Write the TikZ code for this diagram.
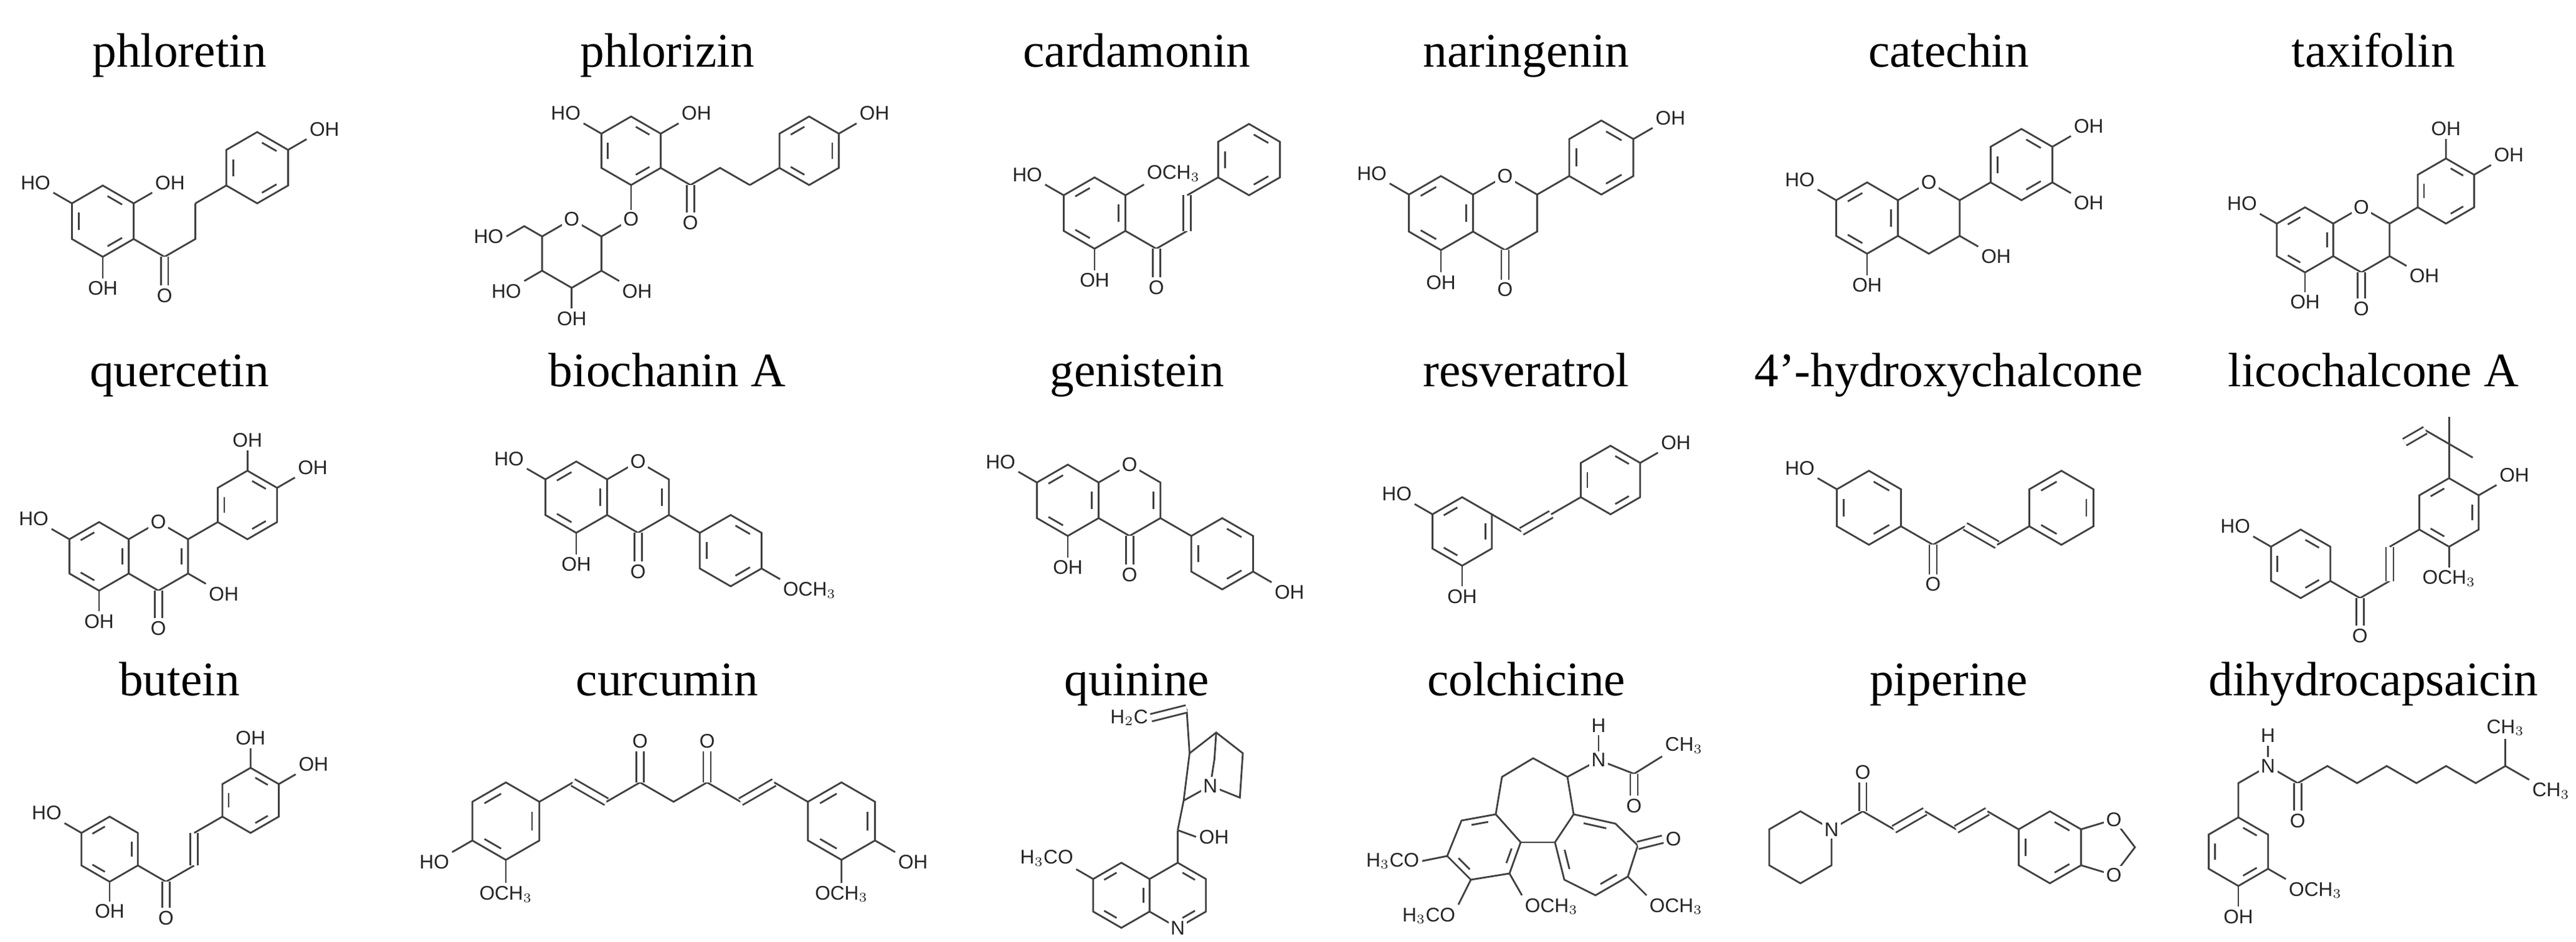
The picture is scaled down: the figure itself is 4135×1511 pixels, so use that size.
\documentclass[tikz,border=0pt]{standalone}
\usepackage{fontspec}
\setmainfont{Liberation Serif}
\newfontfamily\atomf{Liberation Sans}
\usetikzlibrary{calc}
\def\bl{55}
\newcommand\atomfont{\atomf\fontsize{9}{10}\selectfont}
\newcommand\titlefont{\fontsize{22}{24}\selectfont}
\newcommand\mkring[1]{\foreach \i/\a in {1/-90,2/-30,3/30,4/90,5/150,6/210}{\path (#1c) ++(\a:\bl) coordinate (#1\i);}\draw (#11)--(#12)--(#13)--(#14)--(#15)--(#16)--cycle;}
\newcommand\ringhere[2]{\coordinate (#1c) at (#2);\mkring{#1}}
\newcommand\ringbond[3]{\draw (#2) -- ++(#3:\bl) coordinate (#1v);\path (#1v) ++(#3:\bl) coordinate (#1c);\mkring{#1}}
\newcommand\ringfuse[3]{\path (#2c) ++(#3:1.732*\bl) coordinate (#1c);\mkring{#1}}
\newcommand\dbb[3]{\draw[shorten <=2.5pt,shorten >=2.5pt] ($(#1c)!0.78!(#1#2)$) -- ($(#1c)!0.78!(#1#3)$);}
\newcommand\aroA[1]{\dbb{#1}{1}{2}\dbb{#1}{3}{4}\dbb{#1}{5}{6}}
\newcommand\aroB[1]{\dbb{#1}{2}{3}\dbb{#1}{4}{5}\dbb{#1}{6}{1}}
\newcommand\subst[4]{\draw (#1#2) -- ($(#1#2)!-0.6!(#1c)$) node[atom,anchor=#3]{#4};}
\newcommand\dblc[3]{\draw[shorten <=2.5pt,shorten >=2.5pt] ($(#3)!0.8!(#1)$) -- ($(#3)!0.8!(#2)$);}
\newcommand\cO[3]{\draw[dbond] (#1) -- ++(#2:0.8*\bl) node[atom,anchor=#3]{O};}
\begin{document}
\begin{tikzpicture}[x=0.01cm,y=-0.01cm,line width=0.8pt,draw=black!75,
  atom/.style={font=\atomfont,inner sep=1pt,text=black!85},
  het/.style={atom,fill=white},
  dbond/.style={double,double distance=2.6pt},
  title/.style={font=\titlefont,inner sep=0pt,anchor=base}]
\useasboundingbox (0,0) rectangle (4135,1511);
% titles
\node[title] (t1) at (288,107) {phloretin};
\node[title] (t2) at (1071,107) {phlorizin};
\node[title] (t3) at (1825,107) {cardamonin};
\node[title] (t4) at (2450,107) {naringenin};
\node[title] (t5) at (3128,107) {catechin};
\node[title] (t6) at (3810,107) {taxifolin};
\node[title] (t7) at (288,620) {quercetin};
\node[title] (t8) at (1071,620) {biochanin A};
\node[title] (t9) at (1825,620) {genistein};
\node[title] (t10) at (2450,620) {resveratrol};
\node[title] (t11) at (3128,620) {4'-hydroxychalcone};
\node[title] (t12) at (3810,620) {licochalcone A};
\node[title] (t13) at (288,1116) {butein};
\node[title] (t14) at (1071,1116) {curcumin};
\node[title] (t15) at (1825,1116) {quinine};
\node[title] (t16) at (2450,1116) {colchicine};
\node[title] (t17) at (3128,1116) {piperine};
\node[title] (t18) at (3810,1116) {dihydrocapsaicin};
% phloretin
\begin{scope}[shift={(165,355)},scale=1.04]
\ringhere{aA}{0,0}\aroA{aA}
\subst{aA}{6}{south east}{HO}\subst{aA}{2}{south west}{OH}\subst{aA}{4}{north}{OH}
\draw (aA3) --++(30:\bl) coordinate (a1) --++(-30:\bl) coordinate (a2) --++(-90:\bl) coordinate (a3);
\cO{a1}{90}{north}
\ringbond{aB}{a3}{-30}\aroA{aB}\subst{aB}{2}{south west}{OH}
\end{scope}
% phlorizin
\begin{scope}[shift={(1013,242)}]
\ringhere{bA}{0,0}\aroA{bA}
\subst{bA}{6}{south east}{HO}\subst{bA}{2}{south west}{OH}
\draw (bA3) --++(30:\bl) coordinate (b1) --++(-30:\bl) coordinate (b2) --++(30:\bl) coordinate (b3);
\cO{b1}{90}{north}
\ringbond{bB}{b3}{-30}\aroB{bB}\subst{bB}{2}{south west}{OH}
\draw (bA4) --++(90:\bl) coordinate (bO);
\ringbond{bG}{bO}{150}
\draw (bG6) --++(210:0.6*\bl) --++(150:0.6*\bl) node[atom,anchor=east]{HO};
\subst{bG}{3}{north west}{OH}\subst{bG}{4}{north}{OH}\subst{bG}{5}{north east}{HO}
\node[het] at (bO){O};\node[het] at (bG1){O};
\end{scope}
% cardamonin
\begin{scope}[shift={(1757,342)},scale=1.04]
\ringhere{cA}{0,0}\aroB{cA}
\subst{cA}{6}{south east}{HO}\subst{cA}{2}{south west}{OCH$_3$}\subst{cA}{4}{north}{OH}
\draw (cA3) --++(30:\bl) coordinate (c1) --++(-30:\bl) coordinate (c2);
\draw[dbond] (c2) --++(-90:\bl) coordinate (c3);
\cO{c1}{90}{north}
\ringbond{cB}{c3}{-30}\aroA{cB}
\end{scope}
% naringenin
\begin{scope}[shift={(2313,342)},scale=1.08]
\ringhere{dA}{0,0}\aroB{dA}\ringfuse{dC}{dA}{0}
\subst{dA}{6}{south east}{HO}\subst{dA}{4}{north}{OH}
\cO{dC4}{90}{north}
\ringbond{dB}{dC2}{-30}\aroA{dB}\subst{dB}{2}{south west}{OH}
\node[het] at (dC1){O};
\end{scope}
% catechin
\begin{scope}[shift={(2997,350)},scale=1.04]
\ringhere{eA}{0,0}\aroB{eA}\ringfuse{eC}{eA}{0}
\subst{eA}{6}{south east}{HO}\subst{eA}{4}{north}{OH}
\subst{eC}{3}{north west}{OH}
\ringbond{eB}{eC2}{-30}\aroA{eB}\subst{eB}{2}{south west}{OH}\subst{eB}{3}{north west}{OH}
\node[het] at (eC1){O};
\end{scope}
% taxifolin
\begin{scope}[shift={(3700,385)},scale=0.95]
\ringhere{fA}{0,0}\aroB{fA}\ringfuse{fC}{fA}{0}
\subst{fA}{6}{south east}{HO}\subst{fA}{4}{north}{OH}
\subst{fC}{3}{north west}{OH}\cO{fC4}{90}{north}
\ringbond{fB}{fC2}{-30}\aroA{fB}\subst{fB}{1}{south}{OH}\subst{fB}{2}{south west}{OH}
\node[het] at (fC1){O};
\end{scope}
% quercetin
\begin{scope}[shift={(159,893)}]
\ringhere{gA}{0,0}\aroB{gA}\ringfuse{gC}{gA}{0}\dbb{gC}{2}{3}
\subst{gA}{6}{south east}{HO}\subst{gA}{4}{north}{OH}
\subst{gC}{3}{north west}{OH}\cO{gC4}{90}{north}
\ringbond{gB}{gC2}{-30}\aroA{gB}\subst{gB}{1}{south}{OH}\subst{gB}{2}{south west}{OH}
\node[het] at (gC1){O};
\end{scope}
% biochanin A
\begin{scope}[shift={(925,798)},scale=1.04]
\ringhere{hA}{0,0}\aroB{hA}\ringfuse{hC}{hA}{0}\dbb{hC}{2}{3}
\subst{hA}{6}{south east}{HO}\subst{hA}{4}{north}{OH}
\cO{hC4}{90}{north}
\ringbond{hB}{hC3}{30}\aroA{hB}\subst{hB}{3}{north west}{OCH$_3$}
\node[het] at (hC1){O};
\end{scope}
% genistein
\begin{scope}[shift={(1714,803)},scale=1.04]
\ringhere{iA}{0,0}\aroB{iA}\ringfuse{iC}{iA}{0}\dbb{iC}{2}{3}
\subst{iA}{6}{south east}{HO}\subst{iA}{4}{north}{OH}
\cO{iC4}{90}{north}
\ringbond{iB}{iC3}{30}\aroA{iB}\subst{iB}{3}{north west}{OH}
\node[het] at (iC1){O};
\end{scope}
% resveratrol
\begin{scope}[shift={(2347,853)}]
\ringhere{jA}{0,0}\aroB{jA}
\subst{jA}{6}{south east}{HO}\subst{jA}{4}{north}{OH}
\draw (jA2) --++(30:\bl) coordinate (j1);
\draw[dbond] (j1) --++(-30:\bl) coordinate (j2);
\ringbond{jB}{j2}{-30}\aroA{jB}\subst{jB}{2}{south west}{OH}
\end{scope}
% 4'-hydroxychalcone
\begin{scope}[shift={(3000,815)},scale=1.08]
\ringhere{kA}{0,0}\aroA{kA}
\subst{kA}{6}{south east}{HO}
\draw (kA3) --++(30:\bl) coordinate (k1) --++(-30:\bl) coordinate (k2);
\draw[dbond] (k2) --++(30:\bl) coordinate (k3);
\cO{k1}{90}{north}
\ringbond{kB}{k3}{-30}\aroB{kB}
\end{scope}
% licochalcone A
\begin{scope}[shift={(3693,905)}]
\ringhere{lA}{0,0}\aroA{lA}
\subst{lA}{6}{south east}{HO}
\draw (lA3) --++(30:\bl) coordinate (l1) --++(-30:\bl) coordinate (l2);
\draw[dbond] (l2) --++(-90:\bl) coordinate (l3);
\cO{l1}{90}{north}
\ringbond{lB}{l3}{-30}\aroB{lB}\subst{lB}{2}{south west}{OH}\subst{lB}{4}{north}{OCH$_3$}
\draw (lB1) --++(-90:\bl) coordinate (lQ);
\draw (lQ) --++(-90:0.8*\bl);
\draw (lQ) --++(30:0.8*\bl);
\draw (lQ) --++(210:0.8*\bl) coordinate (lV);
\draw[dbond] (lV) --++(150:0.7*\bl);
\end{scope}
% butein
\begin{scope}[shift={(176,1363)},scale=0.95]
\ringhere{mA}{0,0}\aroB{mA}
\subst{mA}{6}{south east}{HO}\subst{mA}{4}{north}{OH}
\draw (mA3) --++(30:\bl) coordinate (m1) --++(-30:\bl) coordinate (m2);
\draw[dbond] (m2) --++(-90:\bl) coordinate (m3);
\cO{m1}{90}{north}
\ringbond{mB}{m3}{-30}\aroA{mB}\subst{mB}{1}{south}{OH}\subst{mB}{2}{south west}{OH}
\end{scope}
% curcumin
\begin{scope}[shift={(812,1318)},scale=1.13]
\ringhere{nL}{0,0}\aroB{nL}
\subst{nL}{5}{north east}{HO}\subst{nL}{4}{north}{OCH$_3$}
\draw (nL2) --++(-30:\bl) coordinate (n1);
\draw[dbond] (n1) --++(30:\bl) coordinate (n2);
\draw (n2) --++(-30:\bl) coordinate (n3) --++(30:\bl) coordinate (n4) --++(-30:\bl) coordinate (n5) --++(30:\bl) coordinate (n6);
\draw[dbond] (n6) --++(-30:\bl) coordinate (n7);
\cO{n3}{-90}{south}\cO{n5}{-90}{south}
\ringbond{nR}{n7}{30}\aroB{nR}
\subst{nR}{3}{north west}{OH}\subst{nR}{4}{north}{OCH$_3$}
\end{scope}
% quinine
\begin{scope}[shift={(1800,1437)},scale=0.95]
\ringhere{oP}{0,0}\ringfuse{oQ}{oP}{0}
\dbb{oP}{4}{5}\dbb{oP}{6}{1}\dbb{oP}{2}{3}\dbb{oQ}{1}{2}\dbb{oQ}{3}{4}
\subst{oP}{6}{south east}{H$_3$CO}
\draw (oQ1) --++(-90:\bl) coordinate (o0);
\draw (o0) --++(20:0.6*\bl) node[atom,anchor=west]{OH};
\path (o0) ++(10,-50) coordinate (oC2);
\path (o0) ++(55,-75) coordinate (oN);
\path (o0) ++(105,-55) coordinate (oC6);
\path (o0) ++(110,-130) coordinate (oC5);
\path (o0) ++(65,-165) coordinate (oC4);
\path (o0) ++(20,-130) coordinate (oC3);
\path (o0) ++(62,-120) coordinate (oC7);
\path (o0) ++(15,-205) coordinate (oV);
\path (o0) ++(-45,-190) coordinate (oH);
\draw (o0)--(oC2)--(oN)--(oC6)--(oC5)--(oC4)--(oC3)--(oC2);
\draw (oN)--(oC7)--(oC4);
\draw (oC3)--(oV);
\draw[dbond] (oV)--(oH);
\node[het,anchor=east] at (oH) {H$_2$C};
\node[het] at (oN){N};
\node[het] at (oQ4){N};
\end{scope}
% colchicine
\begin{scope}[shift={(2401,1352)}]
\coordinate (pa1) at (0,-45);\coordinate (pa2) at (40,0);\coordinate (pa3) at (22,50);
\coordinate (pa4) at (-40,60);\coordinate (pa5) at (-78,22);\coordinate (pa6) at (-55,-35);
\coordinate (pAc) at (-18,8);
\coordinate (pb5) at (10,-105);\coordinate (pb6) at (60,-135);\coordinate (pb7) at (115,-105);
\coordinate (pc1) at (125,-45);\coordinate (pc2) at (95,0);\coordinate (pc3) at (192,-30);
\coordinate (pc4) at (228,5);\coordinate (pc5) at (212,55);\coordinate (pc6) at (160,85);
\coordinate (pc7) at (110,60);\coordinate (pCc) at (162,17);
\draw (pa1)--(pa2)--(pa3)--(pa4)--(pa5)--(pa6)--cycle;
\draw (pa1)--(pb5)--(pb6)--(pb7)--(pc1);
\draw (pc1)--(pc3)--(pc4)--(pc5)--(pc6)--(pc7)--(pc2)--cycle;
\draw (pa2)--(pc2);
\dblc{pa6}{pa1}{pAc}\dblc{pa2}{pa3}{pAc}\dblc{pa4}{pa5}{pAc}
\dblc{pc1}{pc3}{pCc}\dblc{pc5}{pc6}{pCc}\dblc{pc7}{pc2}{pCc}
\draw (pa5) -- ++(-40,8) node[atom,anchor=east]{H$_3$CO};
\draw (pa4) -- ++(-20,40) node[atom,anchor=north east]{H$_3$CO};
\draw (pa3) -- ++(20,35) node[atom,anchor=north west]{OCH$_3$};
\draw[dbond] (pc4) -- ++(40,-10) node[atom,anchor=west]{O};
\draw (pc5) -- ++(30,30) node[atom,anchor=north west]{OCH$_3$};
\coordinate (pN) at (165,-132);\coordinate (pAm) at (222,-110);
\draw (pb7)--(pN)--(pAm);
\draw (pAm) -- ++(45,-28) node[atom,anchor=south west]{CH$_3$};
\draw[dbond] (pAm) -- ++(0,35) node[atom,anchor=north]{O};
\draw (pN) -- ++(0,-40) node[atom,anchor=south]{H};
\node[het] at (pN){N};
\end{scope}
% piperine
\begin{scope}[shift={(2890,1360)},scale=1.05]
\ringhere{rP}{0,0}
\draw (rP2) --++(-30:\bl) coordinate (r1) --++(30:\bl) coordinate (r2);
\draw[dbond] (r2) --++(-30:\bl) coordinate (r3);
\draw (r3) --++(30:\bl) coordinate (r4);
\draw[dbond] (r4) --++(-30:\bl) coordinate (r5);
\cO{r1}{-90}{south}
\ringbond{rD}{r5}{30}\aroA{rD}
\path (rD2) ++(50,-15) coordinate (rO1);
\path (rD3) ++(50,15) coordinate (rO2);
\path (rDc) ++(130,0) coordinate (rM);
\draw (rD2)--(rO1)--(rM)--(rO2)--(rD3);
\node[het] at (rO1){O};\node[het] at (rO2){O};\node[het] at (rP2){N};
\end{scope}
% dihydrocapsaicin
\begin{scope}[shift={(3593,1367)}]
\ringhere{sR}{0,0}\aroA{sR}
\subst{sR}{4}{north}{OH}\subst{sR}{3}{north west}{OCH$_3$}
\draw (sR1) --++(-90:\bl) coordinate (s0) --++(-30:\bl) coordinate (sN) --++(30:\bl) coordinate (s1) --++(-30:\bl) coordinate (s2) --++(30:\bl) coordinate (s3) --++(-30:\bl) coordinate (s4) --++(30:\bl) coordinate (s5) --++(-30:\bl) coordinate (s6) --++(30:\bl) coordinate (s7) --++(-30:\bl) coordinate (s8);
\draw (s8) --++(-90:0.8*\bl) node[atom,anchor=south]{CH$_3$};
\draw (s8) --++(30:0.8*\bl) node[atom,anchor=north west]{CH$_3$};
\cO{s1}{90}{north}
\draw (sN) --++(-90:0.6*\bl) node[atom,anchor=south]{H};
\node[het] at (sN){N};
\end{scope}
\end{tikzpicture}
\end{document}
